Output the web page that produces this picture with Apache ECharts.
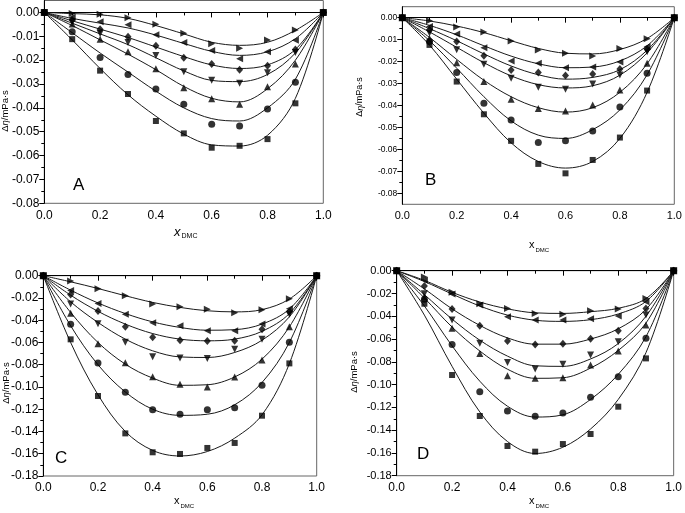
<!DOCTYPE html>
<html><head><meta charset="utf-8">
<script src="https://cdn.jsdelivr.net/npm/echarts@6/dist/echarts.min.js"></script>
<style>html,body{margin:0;padding:0;background:#fff}#c{width:685px;height:513px}</style>
</head><body><div id="c"></div><script>
// ---------- data ----------
const xValues = [0, 0.1, 0.2, 0.3, 0.4, 0.5, 0.6, 0.7, 0.8, 0.9, 1.0];
const xTickLabels = ['0.0', '0.2', '0.4', '0.6', '0.8', '1.0'];
const yTicksAB = [0, -0.01, -0.02, -0.03, -0.04, -0.05, -0.06, -0.07, -0.08];
const yMinorA = [-0.005, -0.015, -0.025, -0.035, -0.045, -0.055, -0.065, -0.075];
const yMinorB = [-0.005, -0.015, -0.025, -0.035, -0.045, -0.055, -0.065, -0.075];
const yTicksCD = [0, -0.02, -0.04, -0.06, -0.08, -0.10, -0.12, -0.14, -0.16, -0.18];
const yMinorCD = [-0.01, -0.03, -0.05, -0.07, -0.09, -0.11, -0.13, -0.15, -0.17];

// Panel A - measured points
const A_sq = [0, -0.0112, -0.0244, -0.0342, -0.0455, -0.0507, -0.0567, -0.0559, -0.0531, -0.0381, 0];
const A_ci = [0, -0.0081, -0.0189, -0.0260, -0.0321, -0.0385, -0.0469, -0.0476, -0.0405, -0.0293, 0];
const A_up = [0, -0.0049, -0.0112, -0.0165, -0.0236, -0.0316, -0.0362, -0.0385, -0.0311, -0.0216, 0];
const A_dn = [0, -0.0040, -0.0088, -0.0126, -0.0180, -0.0249, -0.0284, -0.0297, -0.0253, -0.0168, 0];
const A_di = [0, -0.0032, -0.0071, -0.0102, -0.0140, -0.0190, -0.0216, -0.0240, -0.0223, -0.0155, 0];
const A_lt = [0, -0.0020, -0.0039, -0.0052, -0.0094, -0.0126, -0.0160, -0.0194, -0.0165, -0.0117, 0];
const A_rt = [0, -0.0004, -0.0008, -0.0022, -0.0050, -0.0087, -0.0131, -0.0150, -0.0116, -0.0074, 0];
// Panel A - fitted curves
const A_sqFit = [0, -0.0115, -0.0235, -0.0345, -0.0435, -0.0510, -0.0555, -0.0560, -0.0515, -0.0360, 0];
const A_ciFit = [0, -0.0085, -0.0170, -0.0250, -0.0330, -0.0400, -0.0445, -0.0455, -0.0400, -0.0280, 0];
const A_upFit = [0, -0.0055, -0.0115, -0.0175, -0.0240, -0.0310, -0.0360, -0.0375, -0.0320, -0.0200, 0];
const A_dnFit = [0, -0.0045, -0.0090, -0.0135, -0.0190, -0.0245, -0.0285, -0.0290, -0.0260, -0.0170, 0];
const A_diFit = [0, -0.0035, -0.0070, -0.0105, -0.0145, -0.0185, -0.0220, -0.0235, -0.0220, -0.0155, 0];
const A_ltFit = [0, -0.0025, -0.0045, -0.0065, -0.0095, -0.0130, -0.0163, -0.0180, -0.0165, -0.0110, 0];
const A_rtFit = [0, -0.0005, -0.0010, -0.0025, -0.0055, -0.0090, -0.0125, -0.0138, -0.0125, -0.0075, 0];

// Panel B
const B_sq = [0, -0.0124, -0.0291, -0.0440, -0.0561, -0.0666, -0.0709, -0.0648, -0.0546, -0.0332, 0];
const B_ci = [0, -0.0108, -0.0250, -0.0390, -0.0466, -0.0568, -0.0561, -0.0516, -0.0407, -0.0253, 0];
const B_up = [0, -0.0095, -0.0205, -0.0291, -0.0372, -0.0414, -0.0425, -0.0398, -0.0329, -0.0208, 0];
const B_dn = [0, -0.0070, -0.0146, -0.0212, -0.0276, -0.0317, -0.0326, -0.0302, -0.0261, -0.0155, 0];
const B_di = [0, -0.0055, -0.0109, -0.0173, -0.0238, -0.0250, -0.0263, -0.0256, -0.0234, -0.0144, 0];
const B_lt = [0, -0.0040, -0.0074, -0.0137, -0.0197, -0.0208, -0.0228, -0.0225, -0.0202, -0.0132, 0];
const B_rt = [0, -0.0014, -0.0042, -0.0065, -0.0106, -0.0147, -0.0162, -0.0175, -0.0140, -0.0096, 0];
const B_sqFit = [0, -0.0125, -0.0280, -0.0435, -0.0570, -0.0655, -0.0685, -0.0655, -0.0550, -0.0340, 0];
const B_ciFit = [0, -0.0105, -0.0230, -0.0360, -0.0470, -0.0535, -0.0550, -0.0510, -0.0420, -0.0260, 0];
const B_upFit = [0, -0.0090, -0.0190, -0.0285, -0.0360, -0.0410, -0.0430, -0.0410, -0.0340, -0.0210, 0];
const B_dnFit = [0, -0.0065, -0.0135, -0.0205, -0.0265, -0.0305, -0.0320, -0.0310, -0.0262, -0.0160, 0];
const B_diFit = [0, -0.0050, -0.0105, -0.0165, -0.0220, -0.0260, -0.0280, -0.0272, -0.0237, -0.0148, 0];
const B_ltFit = [0, -0.0035, -0.0078, -0.0128, -0.0175, -0.0210, -0.0228, -0.0225, -0.0197, -0.0128, 0];
const B_rtFit = [0, -0.0015, -0.0038, -0.0068, -0.0105, -0.0140, -0.0162, -0.0165, -0.0145, -0.0095, 0];

// Panel C
const C_sq = [0, -0.0572, -0.1081, -0.1417, -0.1587, -0.1602, -0.1548, -0.1503, -0.1258, -0.0788, 0];
const C_ci = [0, -0.0437, -0.0785, -0.1048, -0.1204, -0.1246, -0.1204, -0.1186, -0.0985, -0.0599, 0];
const C_up = [0, -0.0338, -0.0611, -0.0782, -0.0907, -0.0976, -0.1000, -0.0910, -0.0758, -0.0458, 0];
const C_dn = [0, -0.0255, -0.0431, -0.0599, -0.0728, -0.0740, -0.0743, -0.0662, -0.0572, -0.0347, 0];
const C_di = [0, -0.0168, -0.0317, -0.0458, -0.0554, -0.0581, -0.0587, -0.0584, -0.0482, -0.0323, 0];
const C_lt = [0, -0.0132, -0.0249, -0.0347, -0.0422, -0.0449, -0.0494, -0.0494, -0.0434, -0.0296, 0];
const C_rt = [0, -0.0048, -0.0117, -0.0180, -0.0255, -0.0279, -0.0302, -0.0332, -0.0305, -0.0207, 0];
const C_sqFit = [0, -0.0600, -0.1070, -0.1400, -0.1570, -0.1620, -0.1580, -0.1460, -0.1250, -0.0790, 0];
const C_ciFit = [0, -0.0450, -0.0800, -0.1045, -0.1200, -0.1255, -0.1245, -0.1160, -0.0960, -0.0600, 0];
const C_upFit = [0, -0.0330, -0.0600, -0.0795, -0.0920, -0.0985, -0.0980, -0.0910, -0.0750, -0.0460, 0];
const C_dnFit = [0, -0.0235, -0.0420, -0.0570, -0.0675, -0.0730, -0.0735, -0.0690, -0.0580, -0.0370, 0];
const C_diFit = [0, -0.0175, -0.0320, -0.0435, -0.0520, -0.0570, -0.0585, -0.0570, -0.0500, -0.0340, 0];
const C_ltFit = [0, -0.0130, -0.0245, -0.0340, -0.0415, -0.0465, -0.0490, -0.0485, -0.0435, -0.0300, 0];
const C_rtFit = [0, -0.0055, -0.0115, -0.0180, -0.0240, -0.0285, -0.0315, -0.0325, -0.0305, -0.0210, 0];

// Panel D
const D_sq = [0, -0.0290, -0.0916, -0.1276, -0.1539, -0.1589, -0.1522, -0.1434, -0.1194, -0.0770, 0];
const D_ci = [0, -0.0251, -0.0647, -0.1062, -0.1232, -0.1279, -0.1250, -0.1112, -0.0931, -0.0594, 0];
const D_up = [0, -0.0231, -0.0506, -0.0726, -0.0922, -0.0945, -0.0939, -0.0828, -0.0705, -0.0477, 0];
const D_dn = [0, -0.0202, -0.0433, -0.0638, -0.0805, -0.0864, -0.0822, -0.0740, -0.0623, -0.0389, 0];
const D_di = [0, -0.0134, -0.0337, -0.0483, -0.0618, -0.0647, -0.0641, -0.0597, -0.0527, -0.0331, 0];
const D_lt = [0, -0.0084, -0.0205, -0.0301, -0.0404, -0.0433, -0.0433, -0.0421, -0.0398, -0.0272, 0];
const D_rt = [0, -0.0055, -0.0190, -0.0290, -0.0331, -0.0375, -0.0383, -0.0351, -0.0337, -0.0243, 0];
const D_sqFit = [0, -0.0390, -0.0840, -0.1240, -0.1500, -0.1605, -0.1550, -0.1390, -0.1130, -0.0720, 0];
const D_ciFit = [0, -0.0310, -0.0660, -0.0970, -0.1190, -0.1285, -0.1265, -0.1130, -0.0910, -0.0580, 0];
const D_upFit = [0, -0.0240, -0.0495, -0.0705, -0.0865, -0.0945, -0.0940, -0.0855, -0.0700, -0.0460, 0];
const D_dnFit = [0, -0.0210, -0.0425, -0.0610, -0.0750, -0.0835, -0.0840, -0.0775, -0.0640, -0.0400, 0];
const D_diFit = [0, -0.0160, -0.0335, -0.0480, -0.0590, -0.0645, -0.0645, -0.0600, -0.0510, -0.0340, 0];
const D_ltFit = [0, -0.0095, -0.0205, -0.0310, -0.0390, -0.0435, -0.0445, -0.0430, -0.0380, -0.0270, 0];
const D_rtFit = [0, -0.0085, -0.0190, -0.0275, -0.0335, -0.0370, -0.0375, -0.0360, -0.0330, -0.0245, 0];

// ---------- layout / style ----------
const FONT = 'Liberation Sans';
const markers = {
  sq: { symbol: 'rect', size: 6, rotate: 0 },
  ci: { symbol: 'circle', size: 7, rotate: 0 },
  up: { symbol: 'triangle', size: 7, rotate: 0 },
  dn: { symbol: 'triangle', size: 7, rotate: 180 },
  di: { symbol: 'diamond', size: [7, 8], rotate: 0 },
  lt: { symbol: 'triangle', size: 7, rotate: 90 },
  rt: { symbol: 'triangle', size: 7, rotate: -90 }
};
const panels = [
  { name: 'A', grid: { left: 44.3, right: 361.7, top: 0.5, bottom: 309.7 }, min: -0.08, max: 0.005,
    ticks: yTicksAB, minor: yMinorA, yFont: 12, xFont: 12,
    pts: { sq: A_sq, ci: A_ci, up: A_up, dn: A_dn, di: A_di, lt: A_lt, rt: A_rt },
    fit: { sq: A_sqFit, ci: A_ciFit, up: A_upFit, dn: A_dnFit, di: A_diFit, lt: A_ltFit, rt: A_rtFit },
    letter: [73, 185], xt: [174, 233, 13, 7, true], yt: [5, 111, 9.5] },
  { name: 'B', grid: { left: 402.3, right: 10.7, top: 6.7, bottom: 308.7 }, min: -0.085, max: 0.005,
    ticks: yTicksAB, minor: yMinorB, yFont: 8.5, xFont: 11,
    pts: { sq: B_sq, ci: B_ci, up: B_up, dn: B_dn, di: B_di, lt: B_lt, rt: B_rt },
    fit: { sq: B_sqFit, ci: B_ciFit, up: B_upFit, dn: B_dnFit, di: B_diFit, lt: B_ltFit, rt: B_rtFit },
    letter: [425, 180], xt: [529, 246, 11, 6, false], yt: [360, 97, 9] },
  { name: 'C', grid: { left: 43.3, right: 368.3, top: 275.7, bottom: 37 }, min: -0.18, max: 0,
    ticks: yTicksCD, minor: yMinorCD, yFont: 12, xFont: 12,
    pts: { sq: C_sq, ci: C_ci, up: C_up, dn: C_dn, di: C_di, lt: C_lt, rt: C_rt },
    fit: { sq: C_sqFit, ci: C_ciFit, up: C_upFit, dn: C_dnFit, di: C_diFit, lt: C_ltFit, rt: C_rtFit },
    letter: [55, 458], xt: [174, 502, 11, 6, false], yt: [6, 383, 9.5] },
  { name: 'D', grid: { left: 396.7, right: 7.7, top: 270.7, bottom: 37.3 }, min: -0.18, max: 0,
    ticks: yTicksCD, minor: yMinorCD, yFont: 11, xFont: 12,
    pts: { sq: D_sq, ci: D_ci, up: D_up, dn: D_dn, di: D_di, lt: D_lt, rt: D_rt },
    fit: { sq: D_sqFit, ci: D_ciFit, up: D_upFit, dn: D_dnFit, di: D_diFit, lt: D_ltFit, rt: D_rtFit },
    letter: [417, 454], xt: [529, 502, 11, 6, false], yt: [354, 372, 9.5] }
];

const grid = [], xAxis = [], yAxis = [], series = [], graphic = [];
panels.forEach((p, i) => {
  grid.push(Object.assign({ show: true, borderColor: '#666', borderWidth: 1, containLabel: false }, p.grid));
  xAxis.push({
    type: 'value', gridIndex: i, min: 0, max: 1, interval: 0.2,
    axisLine: { show: true, lineStyle: { color: '#000', width: 1 } },
    axisTick: { show: true, length: 5, inside: false, lineStyle: { color: '#000' } },
    minorTick: { show: true, splitNumber: 2, length: 3, lineStyle: { color: '#000' } },
    splitLine: { show: false },
    axisLabel: { margin: 6, fontSize: p.xFont, fontFamily: FONT, color: '#000',
      formatter: v => xTickLabels[Math.round(v / 0.2)] }
  });
  yAxis.push({
    type: 'value', gridIndex: i, min: p.min, max: p.max, position: 'left',
    axisLine: { show: true, lineStyle: { color: '#000', width: 1 } },
    axisTick: { show: true, length: 5, customValues: p.ticks, lineStyle: { color: '#000' } },
    splitLine: { show: false },
    axisLabel: { margin: 5, fontSize: p.yFont, fontFamily: FONT, color: '#000',
      customValues: p.ticks, formatter: v => v.toFixed(2) }
  });
});
panels.forEach((p, i) => {
  yAxis.push({
    type: 'value', gridIndex: i, min: p.min, max: p.max, position: 'left', offset: 0,
    axisLine: { show: false },
    axisTick: { show: true, length: 3, customValues: p.minor, lineStyle: { color: '#000' } },
    axisLabel: { show: false }, splitLine: { show: false }
  });
});

const order = ['sq', 'ci', 'up', 'dn', 'di', 'lt', 'rt'];
panels.forEach((p, i) => {
  order.forEach(k => {
    series.push({
      type: 'line', xAxisIndex: i, yAxisIndex: i, smooth: 0.35, showSymbol: false, symbol: 'none',
      silent: true, z: 2,
      lineStyle: { color: '#1a1a1a', width: 1 },
      data: xValues.map((x, j) => [x, p.fit[k][j]])
    });
  });
  order.forEach(k => {
    const m = markers[k];
    series.push({
      type: 'scatter', xAxisIndex: i, yAxisIndex: i, symbol: m.symbol, symbolSize: m.size,
      symbolRotate: m.rotate, z: 3, silent: true,
      itemStyle: { color: '#000' },
      data: xValues.map((x, j) => [x, p.pts[k][j]])
    });
  });
  graphic.push({ type: 'text', x: p.letter[0], y: p.letter[1],
    style: { text: p.name, fontSize: 17, fontFamily: FONT, fill: '#000', align: 'left', verticalAlign: 'middle' } });
  graphic.push({ type: 'text', x: p.xt[0], y: p.xt[1],
    style: { text: '{x|x}{s|DMC}', align: 'left', verticalAlign: 'middle',
      rich: {
        x: { fontSize: p.xt[2], fontFamily: FONT, fontStyle: p.xt[4] ? 'italic' : 'normal', fill: '#000', lineHeight: 14, verticalAlign: 'top' },
        s: { fontSize: p.xt[3], fontFamily: FONT, fill: '#000', lineHeight: 8, verticalAlign: 'bottom', padding: [0, 0, 0, 1] }
      } } });
  graphic.push({ type: 'text', x: p.yt[0], y: p.yt[1], rotation: Math.PI / 2,
    style: { text: '{a|Δ}{i|η}{a|/mPa·s}', align: 'center', verticalAlign: 'middle',
      rich: {
        a: { fontSize: p.yt[2], fontFamily: FONT, fill: '#000' },
        i: { fontSize: p.yt[2], fontFamily: FONT, fontStyle: 'italic', fill: '#000' }
      } } });
});

const chart = echarts.init(document.getElementById('c'), null, { renderer: 'canvas' });
chart.setOption({ animation: false, backgroundColor: '#fff', grid, xAxis, yAxis, series, graphic });
</script></body></html>
